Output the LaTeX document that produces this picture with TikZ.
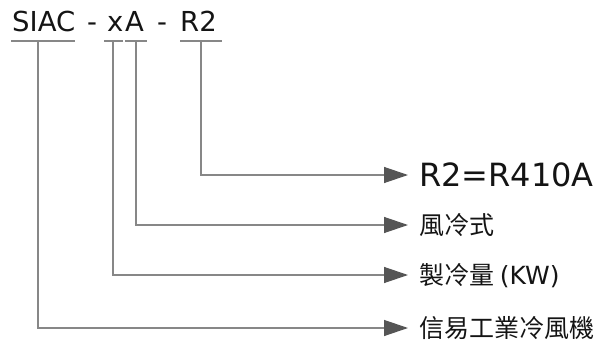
\documentclass[tikz,border=0pt]{standalone}
\usepackage{fontspec}
\setmainfont{DejaVu Sans}
\newfontfamily\cjk{Noto Sans CJK TC}
\usetikzlibrary{arrows.meta}
\definecolor{linegray}{RGB}{135,135,135}
\definecolor{headgray}{RGB}{85,85,85}
\definecolor{txt}{RGB}{20,20,20}
\begin{document}
\begin{tikzpicture}[x=1pt,y=-1pt,
  code/.style={inner sep=0pt,anchor=base west,text=txt,font=\fontsize{27.5}{28}\selectfont},
  lbl/.style={inner sep=0pt,anchor=base west,text=txt,font=\fontsize{25}{25}\selectfont},
  ulin/.style={draw=linegray,line width=1.3pt},
  conn/.style={draw=linegray,line width=1.3pt,-{Triangle[length=24pt,width=16pt,color=headgray]}}]
\useasboundingbox (0,0) rectangle (607,342);
% title parts
\node[code] (siac) at (12,32) {SIAC};
\node[code] (d1) at (87,32) {-};
\node[code] (xx) at (107,32) {x};
\node[code] (aa) at (125,32) {A};
\node[code] (d2) at (157,32) {-};
\node[code] (rr) at (180,32) {R2};
% underline coordinates
\coordinate (u1a) at (11,41); \coordinate (u1b) at (75,41);
\coordinate (u2a) at (104,41); \coordinate (u2b) at (123,41);
\coordinate (u3a) at (125,41); \coordinate (u3b) at (147,41);
\coordinate (u4a) at (180,41); \coordinate (u4b) at (222,41);
\draw[ulin] (u1a) -- (u1b);
\draw[ulin] (u2a) -- (u2b);
\draw[ulin] (u3a) -- (u3b);
\draw[ulin] (u4a) -- (u4b);
% labels
\node[lbl,font=\fontsize{32}{32}\selectfont] (l1) at (419,186) {R2=R410A};
\node[lbl] (l2) at (419,234.5) {\cjk 風冷式};
\node[lbl] (l3) at (419,284.5) {\cjk 製冷量 {\rmfamily(KW)}};
\node[lbl] (l4) at (419,337.5) {\cjk 信易工業冷風機};
% arrow ends
\coordinate (e1) at (408,175);
\coordinate (e2) at (408,225);
\coordinate (e3) at (408,275);
\coordinate (e4) at (408,328);
\coordinate (s1) at (201,41);
\coordinate (s2) at (136,41);
\coordinate (s3) at (113,41);
\coordinate (s4) at (38,41);
\draw[conn] (s1) |- (e1);
\draw[conn] (s2) |- (e2);
\draw[conn] (s3) |- (e3);
\draw[conn] (s4) |- (e4);
\end{tikzpicture}
\end{document}
